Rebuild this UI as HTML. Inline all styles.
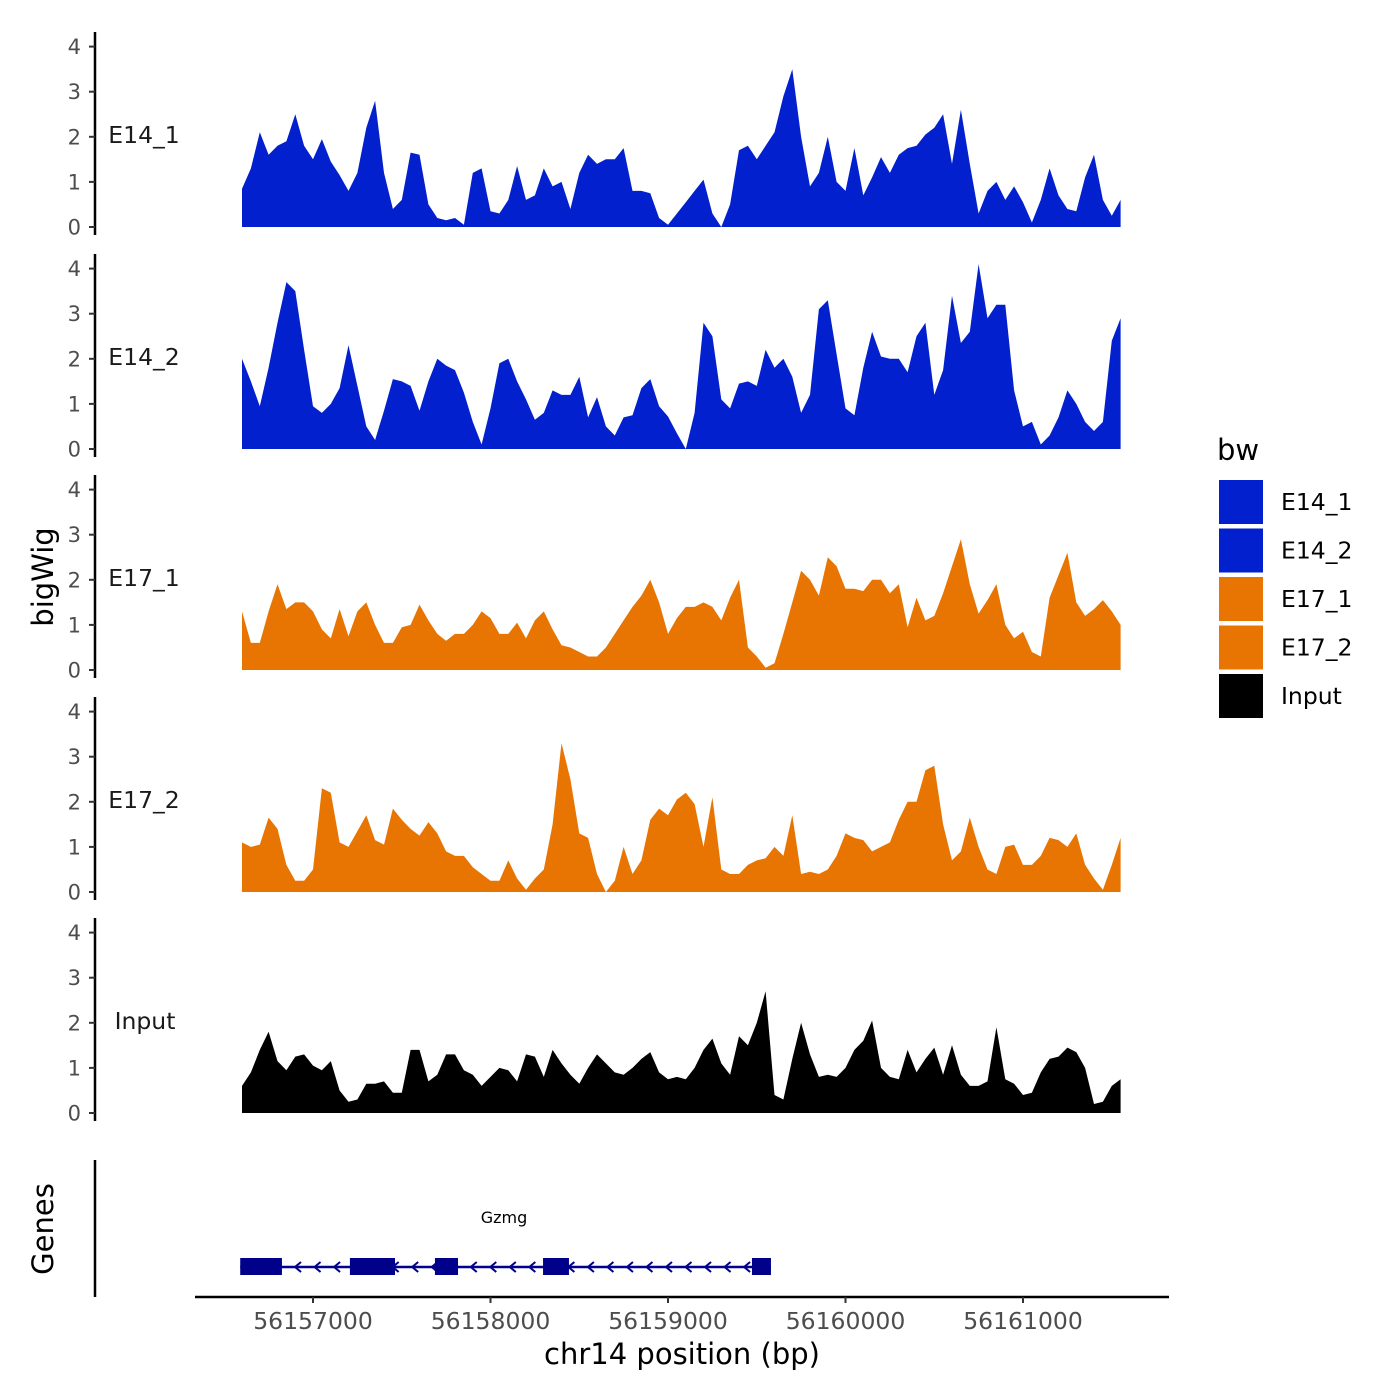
<!DOCTYPE html>
<html><head><meta charset="utf-8"><style>
html,body{margin:0;padding:0;background:#fff;}
svg{display:block;font-family:"DejaVu Sans","Liberation Sans",sans-serif;}
</style></head><body>
<svg id="chart" width="1400" height="1400" viewBox="0 0 1400 1400" xmlns="http://www.w3.org/2000/svg"></svg>
<script>
const regionStart = 56156600;
const binSize = 50;
const trackNames = ["E14_1","E14_2","E17_1","E17_2","Input"];
const trackColors = ["#0220CE","#0220CE","#E87502","#E87502","#000000"];
const e14_1 = [0.85,1.3,2.1,1.6,1.8,1.9,2.5,1.8,1.5,1.95,1.45,1.15,0.8,1.2,2.2,2.8,1.2,0.4,0.6,1.65,1.6,0.5,0.2,0.15,0.2,0.05,1.2,1.3,0.35,0.3,0.6,1.35,0.6,0.7,1.3,0.9,1.0,0.4,1.2,1.6,1.4,1.5,1.5,1.75,0.8,0.8,0.75,0.2,0.05,0.3,0.55,0.8,1.05,0.3,0.0,0.5,1.7,1.8,1.5,1.8,2.1,2.9,3.5,2.0,0.9,1.2,2.0,1.0,0.8,1.75,0.7,1.1,1.55,1.2,1.6,1.75,1.8,2.05,2.2,2.5,1.4,2.6,1.4,0.3,0.8,1.0,0.6,0.9,0.55,0.1,0.6,1.3,0.7,0.4,0.35,1.1,1.6,0.6,0.25,0.6];
const e14_2 = [2.0,1.5,0.95,1.8,2.8,3.7,3.5,2.2,0.95,0.8,1.0,1.35,2.3,1.4,0.5,0.2,0.85,1.55,1.5,1.4,0.85,1.5,2.0,1.85,1.75,1.25,0.6,0.1,0.9,1.9,2.0,1.5,1.1,0.65,0.8,1.3,1.2,1.2,1.6,0.7,1.15,0.5,0.3,0.7,0.75,1.35,1.55,0.95,0.72,0.35,0.0,0.8,2.8,2.5,1.1,0.9,1.45,1.5,1.4,2.2,1.8,2.0,1.6,0.8,1.2,3.1,3.3,2.1,0.9,0.75,1.8,2.6,2.05,2.0,2.0,1.7,2.5,2.8,1.2,1.75,3.4,2.35,2.6,4.1,2.9,3.2,3.2,1.3,0.5,0.6,0.1,0.3,0.7,1.3,1.0,0.6,0.4,0.6,2.4,2.9];
const e17_1 = [1.3,0.6,0.6,1.3,1.9,1.35,1.5,1.5,1.3,0.9,0.7,1.35,0.75,1.3,1.5,1.0,0.6,0.6,0.95,1.0,1.45,1.1,0.8,0.65,0.8,0.8,1.0,1.3,1.15,0.8,0.8,1.05,0.7,1.1,1.3,0.9,0.55,0.5,0.4,0.3,0.3,0.5,0.8,1.1,1.4,1.65,2.0,1.5,0.8,1.15,1.4,1.4,1.5,1.4,1.1,1.6,2.0,0.5,0.3,0.05,0.15,0.8,1.5,2.2,2.0,1.65,2.5,2.3,1.8,1.8,1.75,2.0,2.0,1.7,1.9,0.95,1.6,1.1,1.2,1.7,2.3,2.9,1.9,1.25,1.55,1.9,1.0,0.7,0.85,0.4,0.3,1.6,2.1,2.6,1.5,1.2,1.35,1.55,1.3,1.0];
const e17_2 = [1.1,1.0,1.05,1.65,1.4,0.6,0.25,0.25,0.5,2.3,2.2,1.1,1.0,1.35,1.7,1.15,1.05,1.85,1.6,1.4,1.25,1.55,1.3,0.9,0.8,0.8,0.55,0.4,0.25,0.25,0.7,0.3,0.05,0.3,0.5,1.5,3.3,2.5,1.3,1.2,0.4,0.0,0.25,1.0,0.4,0.7,1.6,1.85,1.7,2.05,2.2,1.95,1.0,2.1,0.5,0.4,0.4,0.6,0.7,0.75,1.0,0.8,1.7,0.4,0.45,0.4,0.5,0.8,1.3,1.2,1.15,0.9,1.0,1.1,1.6,2.0,2.0,2.7,2.8,1.5,0.7,0.9,1.65,1.0,0.5,0.4,1.0,1.05,0.6,0.6,0.8,1.2,1.15,1.0,1.3,0.6,0.3,0.05,0.6,1.2];
const input = [0.6,0.9,1.4,1.8,1.15,0.95,1.25,1.3,1.05,0.95,1.15,0.5,0.25,0.3,0.65,0.65,0.7,0.45,0.45,1.4,1.4,0.7,0.85,1.3,1.3,0.95,0.85,0.6,0.8,1.0,0.95,0.7,1.3,1.25,0.8,1.4,1.1,0.85,0.65,1.0,1.3,1.1,0.9,0.85,1.0,1.2,1.35,0.9,0.75,0.8,0.75,1.0,1.4,1.65,1.1,0.85,1.7,1.5,2.0,2.7,0.4,0.3,1.2,2.0,1.3,0.8,0.85,0.8,1.0,1.4,1.6,2.05,1.0,0.8,0.75,1.4,0.9,1.2,1.45,0.85,1.5,0.85,0.6,0.6,0.7,1.9,0.75,0.65,0.4,0.45,0.9,1.2,1.25,1.45,1.35,1.0,0.2,0.25,0.6,0.75];
const yTicks = [0,1,2,3,4];
const xTicks = [56157000,56158000,56159000,56160000,56161000];
const geneName = "Gzmg";
const geneStart = 56156590;
const geneEnd = 56159580;
const exonStarts = [56156590,56157208,56157687,56158296,56159473];
const exonEnds = [56156825,56157462,56157817,56158442,56159580];

const NS="http://www.w3.org/2000/svg";
const svg=document.getElementById('chart');
function mk(tag,attrs,parent){const e=document.createElementNS(NS,tag);for(const k in attrs)e.setAttribute(k,attrs[k]);(parent||svg).appendChild(e);return e;}
function xScale(bp){return 313+(bp-56157000)*0.1775;}
const zeroYs=[227,449,670,892,1113];
const unit=45.1;
const series=[e14_1,e14_2,e17_1,e17_2,input];

series.forEach((vals,t)=>{
  const y0=zeroYs[t];
  const yS=v=>y0-v*unit;
  const g=mk('g',{});
  
  
  let d='M'+xScale(regionStart).toFixed(1)+','+y0;
  vals.forEach((v,i)=>{d+=' L'+xScale(regionStart+i*binSize).toFixed(1)+','+yS(v).toFixed(1);});
  d+=' L'+xScale(regionStart+(vals.length-1)*binSize).toFixed(1)+','+y0+' Z';
  const p=mk('path',{d:d,fill:trackColors[t]},g);
  
  
  const ax=mk('line',{x1:95,x2:95,y1:y0-195,y2:y0+8,stroke:'#000','stroke-width':2.5},g);
  
  
  yTicks.forEach(tv=>{
    const ty=yS(tv);
    const tk=mk('line',{x1:89,x2:95,y1:ty,y2:ty,stroke:'#333','stroke-width':2},g);
    
    
    const tl=mk('text',{x:81,y:ty+7.5,'text-anchor':'end','font-size':21,fill:'#4d4d4d'},g);
    tl.textContent=tv;
    
    
  });
  const lab=mk('text',{x:t===4?145:144,y:y0-84,'text-anchor':'middle','font-size':23.5,fill:'#1a1a1a'},g);
  lab.textContent=trackNames[t];
  
  
});

const yt=mk('text',{x:0,y:0,transform:'translate(53,577) rotate(-90)','text-anchor':'middle','font-size':29,fill:'#000'});
yt.textContent='bigWig';



const gg=mk('g',{});


const gax=mk('line',{x1:95,x2:95,y1:1160,y2:1297,stroke:'#000','stroke-width':2.5},gg);


const gt=mk('text',{x:0,y:0,transform:'translate(53,1229) rotate(-90)','text-anchor':'middle','font-size':29,fill:'#000'},gg);
gt.textContent='Genes';


const gl=mk('line',{x1:xScale(geneStart),x2:xScale(geneEnd),y1:1267,y2:1267,stroke:'#00008B','stroke-width':2.5},gg);


for(let bp=geneStart+100;bp<geneEnd;bp+=110){
  const ax0=xScale(bp);
  const ar=mk('path',{d:`M${ax0+4},1262 L${ax0-2},1267 L${ax0+4},1272`,fill:'none',stroke:'#00008B','stroke-width':2},gg);
  
  
}
exonStarts.forEach((s,i)=>{
  const x1=xScale(s),x2=xScale(exonEnds[i]);
  const r=mk('rect',{x:x1,y:1258,width:x2-x1,height:17,fill:'#00008B'},gg);
  
  
});
const gn=mk('text',{x:504,y:1223,'text-anchor':'middle','font-size':16,fill:'#000'},gg);
gn.textContent=geneName;



const xa=mk('line',{x1:195,x2:1169,y1:1297,y2:1297,stroke:'#000','stroke-width':2.5});


xTicks.forEach(v=>{
  const x=xScale(v);
  const tk=mk('line',{x1:x,x2:x,y1:1297,y2:1303,stroke:'#333','stroke-width':2});
  
  
  const tl=mk('text',{x:x,y:1329,'text-anchor':'middle','font-size':23.5,fill:'#4d4d4d'});
  tl.textContent=v;
  
  
});
const xt=mk('text',{x:682,y:1364,'text-anchor':'middle','font-size':29,fill:'#000'});
xt.textContent='chr14 position (bp)';



const lg=mk('g',{});


const ltitle=mk('text',{x:1217,y:460,'font-size':29,fill:'#000'},lg);
ltitle.textContent='bw';


trackNames.forEach((n,i)=>{
  const y=480+i*48.5;
  const r=mk('rect',{x:1219,y:y,width:44,height:44,fill:trackColors[i]},lg);
  
  
  const t=mk('text',{x:1281,y:y+30,'font-size':23.5,fill:'#000'},lg);
  t.textContent=n;
  
  
});
</script>
</body></html>
